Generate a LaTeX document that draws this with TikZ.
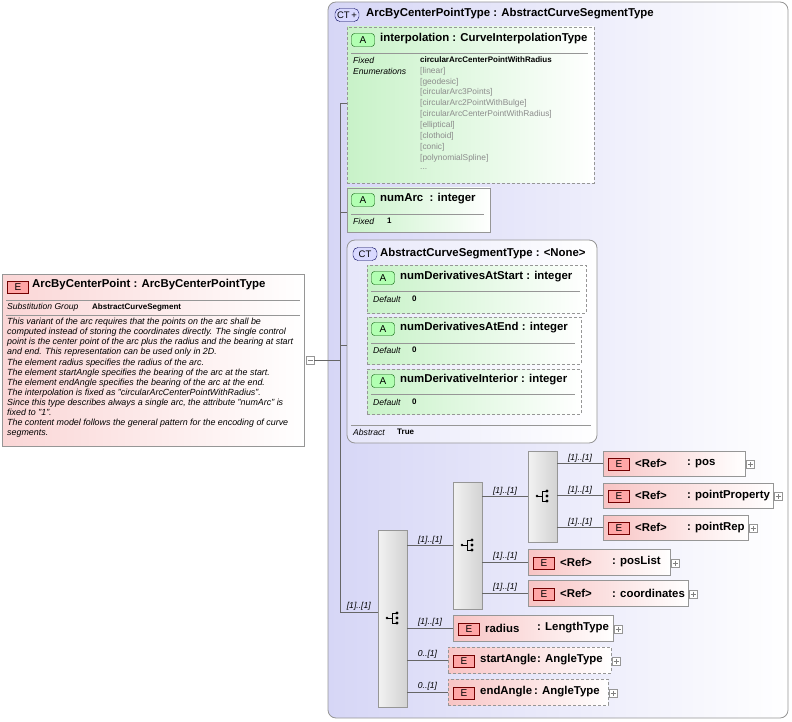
\documentclass[tikz,border=0pt]{standalone}
\usepackage{fontspec}
\setmainfont{Liberation Sans}
\begin{document}
\definecolor{epink}{RGB}{248,196,196}
\definecolor{agreen}{RGB}{200,242,200}
\definecolor{ctlav}{RGB}{214,214,246}
\definecolor{bord}{RGB}{150,150,150}
\definecolor{enumg}{RGB}{140,140,140}
\begin{tikzpicture}[x=1pt,y=-1pt,
  box/.style={draw=bord,inner sep=0pt,line width=0.8pt},
  ebox/.style={box,left color=epink,right color=white},
  abox/.style={box,left color=agreen,right color=white},
  dsh/.style={dash pattern=on 3pt off 2pt},
  badgeE/.style={draw=red!45!black,fill=red!35,inner sep=0pt,minimum width=21pt,minimum height=12pt,font=\fontsize{10}{11}\selectfont},
  badgeA/.style={draw=green!35!black,fill=green!30,rounded corners=3pt,inner sep=0pt,minimum width=23pt,minimum height=13pt,font=\fontsize{10}{11}\selectfont},
  badgeC/.style={draw=blue!35!black,fill=blue!15,rounded corners=5pt,inner sep=0pt,minimum width=24pt,minimum height=13pt,font=\fontsize{9.5}{11}\selectfont},
  ttl/.style={anchor=west,inner sep=0pt,font=\bfseries\fontsize{11.4}{13}\selectfont},
  small/.style={anchor=west,inner sep=0pt,font=\itshape\fontsize{8.6}{10}\selectfont},
  val/.style={anchor=west,inner sep=0pt,font=\bfseries\fontsize{8}{9}\selectfont},
  enm/.style={anchor=west,inner sep=0pt,font=\fontsize{8.4}{9}\selectfont,text=enumg},
  card/.style={inner sep=0pt,font=\itshape\fontsize{8.6}{10}\selectfont},
  plus/.style={draw=bord,fill=white,inner sep=0pt,minimum size=8pt,line width=0.5pt},
  seq/.style={box,left color=gray!10,right color=gray!35},
  ln/.style={draw=gray!80!black,line width=0.6pt}]
\useasboundingbox (0,0) rectangle (792,722);
\newcommand\bx[6]{\node[#6,minimum width={(#4-#2)*1pt},minimum height={(#5-#3)*1pt}] (#1) at ({(#2+#4)/2},{(#3+#5)/2}) {};}
\newcommand\seqicon[2]{%
  \fill ({#1-6},#2) circle (1.4pt);
  \draw[line width=0.7pt] ({#1-6},#2)--({#1-1},#2) ({#1-1},{#2-5})--({#1-1},{#2+5});
  \draw[line width=0.7pt] ({#1-1},{#2-5})--({#1+4},{#2-5}) ({#1-1},{#2+5})--({#1+4},{#2+5});
  \fill ({#1+4},{#2-5}) circle (1.6pt) ({#1+4},#2) circle (1.6pt) ({#1+4},{#2+5}) circle (1.6pt);}
\newcommand\elem[9]{%
  \bx{#1}{#2}{#3}{#4}{#5}{ebox,#6}
  \node[badgeE] at ({#2+16},{(#3+#5)/2+1}) {E};
  \node[ttl] at ({#2+32},{(#3+#5)/2}) {#7};
  \node[ttl] at ({#2+#8},{(#3+#5)/2}) {#9};
  \node[plus] (#1-p) at ({#4+5},{(#3+#5)/2+1}) {};
  \draw[gray,line width=0.5pt] ({#4+2.5},{(#3+#5)/2+1})--({#4+7.5},{(#3+#5)/2+1}) ({#4+5},{(#3+#5)/2-1.5})--({#4+5},{(#3+#5)/2+3.5});}

% left element
\bx{arc}{2}{274}{304}{446}{box,left color=epink!70,right color=white}
\node[badgeE] at (18,287) {E};
\node[ttl] at (32,285) {ArcByCenterPoint : ArcByCenterPointType};
\draw[bord] (6,300)--(300,300) (6,315)--(300,315);
\node[small] at (7,307) {Substitution Group};
\node[val] at (92,307) {AbstractCurveSegment};
\node[anchor=north west,inner sep=0pt,align=left,font=\itshape\fontsize{8.9}{10.1}\selectfont] at (7,318) {This variant of the arc requires that the points on the arc shall be\\computed instead of storing the coordinates directly. The single control\\point is the center point of the arc plus the radius and the bearing at start\\and end. This representation can be used only in 2D.\\The element radius specifies the radius of the arc.\\The element startAngle specifies the bearing of the arc at the start.\\The element endAngle specifies the bearing of the arc at the end.\\The interpolation is fixed as "circularArcCenterPointWithRadius".\\Since this type describes always a single arc, the attribute "numArc" is\\fixed to "1".\\The content model follows the general pattern for the encoding of curve\\segments.};
\node[plus] (arcp) at (310,360) {};
\draw[gray,line width=0.5pt] (307.5,360)--(312.5,360);

% outer CT
\bx{ct}{328}{2}{788}{718}{box,rounded corners=8pt,left color=ctlav,right color=white}
\node[badgeC] at (347,15) {CT\,+};
\node[ttl] at (366,14) {ArcByCenterPointType : AbstractCurveSegmentType};

% interpolation
\bx{interp}{347}{27}{594}{183}{abox,dsh}
\node[badgeA] at (363,40) {A};
\node[ttl] at (380,39) {interpolation : CurveInterpolationType};
\draw[bord] (351,53)--(588,53);
\node[small] at (353,60) {Fixed};
\node[small] at (353,71) {Enumerations};
\node[val] at (420,60) {circularArcCenterPointWithRadius};
\node[enm] at (420,71) {[linear]};
\node[enm] at (420,82) {[geodesic]};
\node[enm] at (420,92.5) {[circularArc3Points]};
\node[enm] at (420,103) {[circularArc2PointWithBulge]};
\node[enm] at (420,114) {[circularArcCenterPointWithRadius]};
\node[enm] at (420,125) {[elliptical]};
\node[enm] at (420,136) {[clothoid]};
\node[enm] at (420,147) {[conic]};
\node[enm] at (420,158) {[polynomialSpline]};
\node[enm] at (420,169) {...};

% numArc
\bx{numarc}{347}{188}{490}{232}{abox}
\node[badgeA] at (363,200) {A};
\node[ttl] at (380,199) {numArc\ \ : integer};
\draw[bord] (351,214)--(484,214);
\node[small] at (353,221) {Fixed};
\node[val] at (387,221) {1};

% abstract CT
\bx{abs}{347}{240}{597}{443}{box,rounded corners=8pt,left color=ctlav!60,right color=white}
\node[badgeC] at (365,254) {CT};
\node[ttl] at (380,254) {AbstractCurveSegmentType : <None>};
\bx{nds}{367}{265}{586}{313}{abox,dsh}
\node[badgeA] at (383,278) {A};
\node[ttl] at (400,277) {numDerivativesAtStart : integer};
\draw[bord] (371,291)--(580,291);
\node[small] at (373,299) {Default};
\node[val] at (412,299) {0};
\bx{nde}{367}{317}{581}{364}{abox,dsh}
\node[badgeA] at (383,329) {A};
\node[ttl] at (400,328) {numDerivativesAtEnd : integer};
\draw[bord] (371,343)--(575,343);
\node[small] at (373,350) {Default};
\node[val] at (412,350) {0};
\bx{ndi}{367}{369}{581}{414}{abox,dsh}
\node[badgeA] at (383,381) {A};
\node[ttl] at (400,380) {numDerivativeInterior : integer};
\draw[bord] (371,394)--(575,394);
\node[small] at (373,402) {Default};
\node[val] at (412,402) {0};
\draw[bord] (351,425)--(591,425);
\node[small] at (353,432) {Abstract};
\node[val] at (397,432) {True};

% sequences
\bx{s1}{378}{530}{407}{707}{seq}
\bx{s2}{453}{482}{482}{609}{seq}
\bx{s3}{528}{451}{557}{542}{seq}
\seqicon{393}{618}
\seqicon{468}{545}
\seqicon{543}{496}

% elements
\elem{pos}{603}{451}{745}{476}{}{<Ref>}{84}{: pos}
\elem{pp}{603}{483}{773}{508}{}{<Ref>}{84}{: pointProperty}
\elem{pr}{603}{515}{748}{540}{}{<Ref>}{84}{: pointRep}
\elem{pl}{528}{549}{670}{575}{}{<Ref>}{84}{: posList}
\elem{co}{528}{580}{688}{606}{}{<Ref>}{84}{: coordinates}
\elem{rad}{453}{615}{613}{641}{}{radius}{84}{: LengthType}
\elem{sa}{448}{647}{611}{673}{dsh}{startAngle}{89}{: AngleType}
\elem{ea}{448}{679}{608}{705}{dsh}{endAngle}{86}{: AngleType}

% connectors
\coordinate (tr) at (340,360);
\coordinate (t1) at (340,103);
\coordinate (t2) at (340,212);
\coordinate (t3) at (340,345);
\coordinate (t4) at (340,612);
\draw[ln] (arcp.east)--(tr);
\draw[ln] (t1) -- (t4);
\draw[ln] (t1) -- (interp.west |- t1);
\draw[ln] (t2) -- (numarc.west |- t2);
\draw[ln] (t3) -- (abs.west |- t3);
\draw[ln] (t4) -- (s1.west |- t4) node[card,midway,above=1pt] {[1]..[1]};
\draw[ln] (s1.east |- s2.west) -- (s2.west) node[card,midway,above=1pt] {[1]..[1]};
\draw[ln] (s1.east |- rad.west) -- (rad.west) node[card,midway,above=1pt] {[1]..[1]};
\draw[ln] (s1.east |- sa.west) -- (sa.west) node[card,midway,above=1pt] {0..[1]};
\draw[ln] (s1.east |- ea.west) -- (ea.west) node[card,midway,above=1pt] {0..[1]};
\draw[ln] (s2.east |- s3.west) -- (s3.west) node[card,midway,above=1pt] {[1]..[1]};
\draw[ln] (s2.east |- pl.west) -- (pl.west) node[card,midway,above=1pt] {[1]..[1]};
\draw[ln] (s2.east |- co.west) -- (co.west) node[card,midway,above=1pt] {[1]..[1]};
\draw[ln] (s3.east |- pos.west) -- (pos.west) node[card,midway,above=1pt] {[1]..[1]};
\draw[ln] (s3.east |- pp.west) -- (pp.west) node[card,midway,above=1pt] {[1]..[1]};
\draw[ln] (s3.east |- pr.west) -- (pr.west) node[card,midway,above=1pt] {[1]..[1]};
\end{tikzpicture}
\end{document}
